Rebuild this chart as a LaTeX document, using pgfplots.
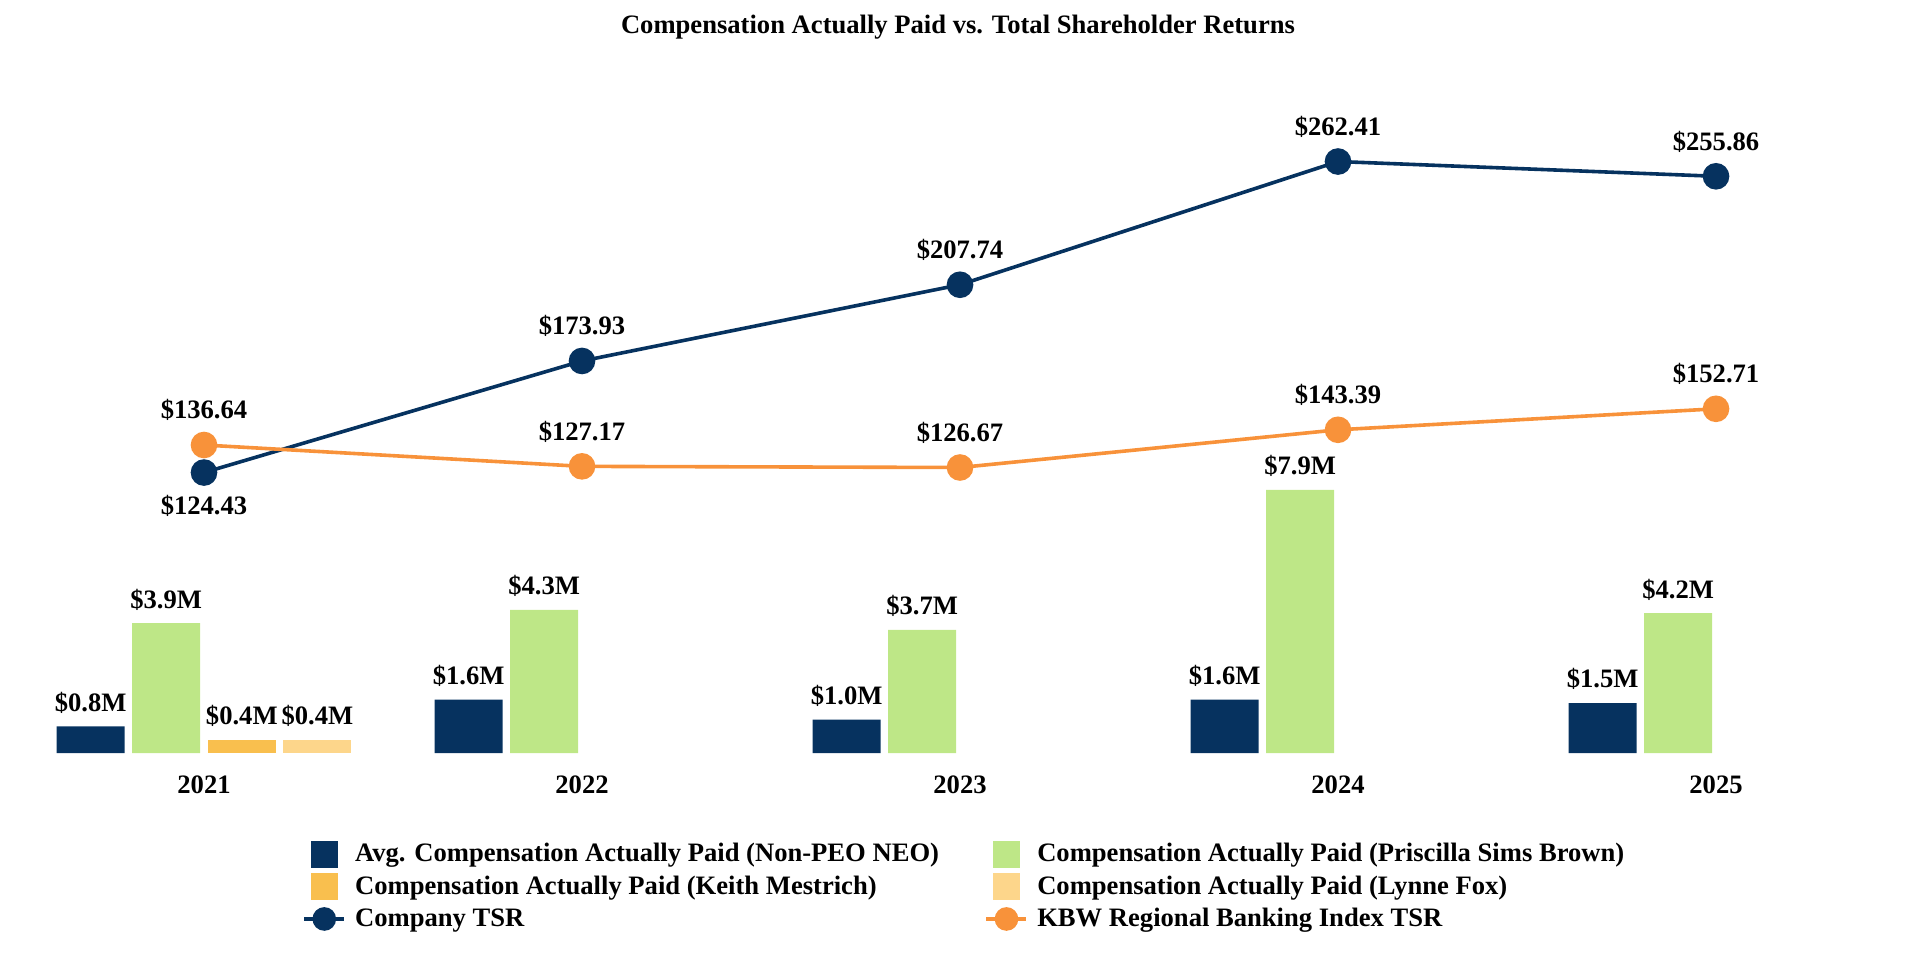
\documentclass[border=0pt]{standalone}
\usepackage{fontspec}
\setmainfont{Liberation Serif}
\usepackage{pgfplots}
\pgfplotsset{compat=1.18}
\definecolor{navy}{HTML}{06325F}
\definecolor{cgreen}{HTML}{BEE787}
\definecolor{cyellow}{HTML}{F9BF4E}
\definecolor{clight}{HTML}{FDD68B}
\definecolor{corange}{HTML}{F8923A}
\newcommand\lf{\fontsize{13.3}{16}\selectfont\bfseries}
\begin{document}
\begin{tikzpicture}
\useasboundingbox (0,0) rectangle (960pt,480pt);
\node[font=\lf] at (479pt,466.5pt) {Compensation Actually Paid vs. Total Shareholder Returns};
\begin{axis}[
 at={(7.5pt,103.5pt)}, anchor=south west,
 scale only axis, width=945pt, height=338.1pt,
 xmin=-0.5, xmax=4.5, ymin=0, ymax=20.3,
 clip=false,
 axis line style={draw=none},
 ytick=\empty,
 xtick={0,1,2,3,4},
 xticklabels={2021,2022,2023,2024,2025},
 xtick style={draw=none},
 xticklabel style={font=\lf, anchor=center, yshift=-11.7pt},
 /pgf/number format/assume math mode=true,
 ybar, bar width=0.18,
 nodes near coords={\$\pgfmathprintnumber[fixed,fixed zerofill,precision=1]{\pgfplotspointmeta}M},
 nodes near coords style={font=\lf, yshift=3pt},
]
\addplot[fill=navy, draw=none, bar shift=-0.3] coordinates {(0,0.8)(1,1.6)(2,1.0)(3,1.6)(4,1.5)};
\addplot[fill=cgreen, draw=none, bar shift=-0.1] coordinates {(0,3.9)(1,4.3)(2,3.7)(3,7.9)(4,4.2)};
\addplot[fill=cyellow, draw=none, bar shift=0.1] coordinates {(0,0.4)};
\addplot[fill=clight, draw=none, bar shift=0.3] coordinates {(0,0.4)};
\end{axis}
\begin{axis}[
 at={(7.5pt,103.5pt)}, anchor=south west,
 scale only axis, width=945pt, height=338.1pt,
 xmin=-0.5, xmax=4.5, ymin=0, ymax=300,
 clip=false, hide axis,
 /pgf/number format/assume math mode=true,
 legend columns=2,
 legend cell align=left,
 legend style={draw=none, fill=none, font=\lf, inner sep=0pt,
   at={(0.1519,-0.129)}, anchor=north west,
   nodes={inner sep=1pt}, row sep=3pt, column sep=3.5pt,
   /tikz/every even column/.append style={column sep=21.8pt}},
]
\addlegendimage{legend image code/.code={\fill[navy] (3.5pt,-6.5pt) rectangle (16.5pt,6.5pt);}}
\addlegendentry{Avg. Compensation Actually Paid (Non-PEO NEO)}
\addlegendimage{legend image code/.code={\fill[cgreen] (3.5pt,-6.5pt) rectangle (16.5pt,6.5pt);}}
\addlegendentry{Compensation Actually Paid (Priscilla Sims Brown)}
\addlegendimage{legend image code/.code={\fill[cyellow] (3.5pt,-6.5pt) rectangle (16.5pt,6.5pt);}}
\addlegendentry{Compensation Actually Paid (Keith Mestrich)}
\addlegendimage{legend image code/.code={\fill[clight] (3.5pt,-6.5pt) rectangle (16.5pt,6.5pt);}}
\addlegendentry{Compensation Actually Paid (Lynne Fox)}
\addplot[navy, line width=1.8pt, mark=*, mark size=5.75pt, mark options={solid},
  legend image code/.code={\draw[navy, line width=1.8pt] (0pt,0pt)--(20pt,0pt); \fill[navy] (10pt,0pt) circle (5pt);}]
  coordinates {(0,124.43)(1,173.93)(2,207.74)(3,262.41)(4,255.86)};
\addlegendentry{Company TSR}
\addplot[corange, line width=1.8pt, mark=*, mark size=5.75pt, mark options={solid},
  legend image code/.code={\draw[corange, line width=1.8pt] (0pt,0pt)--(20pt,0pt); \fill[corange] (10pt,0pt) circle (5pt);}]
  coordinates {(0,136.64)(1,127.17)(2,126.67)(3,143.39)(4,152.71)};
\addlegendentry{KBW Regional Banking Index TSR}
\addplot[draw=none, forget plot,
  nodes near coords={\$\pgfmathprintnumber[fixed,fixed zerofill,precision=2]{\pgfplotspointmeta}},
  nodes near coords style={font=\lf, yshift=8.5pt}]
  coordinates {(1,173.93)(2,207.74)(3,262.41)(4,255.86)};
\addplot[draw=none, forget plot,
  nodes near coords={\$\pgfmathprintnumber[fixed,fixed zerofill,precision=2]{\pgfplotspointmeta}},
  nodes near coords style={font=\lf, yshift=8.5pt}]
  coordinates {(0,136.64)(1,127.17)(2,126.67)(3,143.39)(4,152.71)};
\addplot[draw=none, forget plot,
  nodes near coords={\$\pgfmathprintnumber[fixed,fixed zerofill,precision=2]{\pgfplotspointmeta}},
  nodes near coords style={font=\lf, yshift=-25.5pt}]
  coordinates {(0,124.43)};
\end{axis}
\end{tikzpicture}
\end{document}
